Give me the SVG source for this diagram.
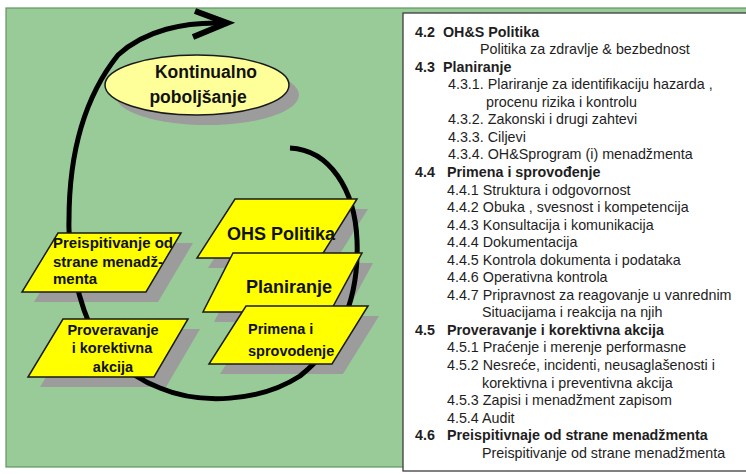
<svg xmlns="http://www.w3.org/2000/svg" width="746" height="474" viewBox="0 0 746 474">
<style>
.shape{fill:#ffff00;stroke:#1a1a1a;stroke-width:1.5;stroke-linejoin:miter}
.shadow{fill:#9c9c9c}
.lbl{font-family:"Liberation Sans",Arial,sans-serif;font-weight:bold;fill:#111}
.pt{font-family:"Liberation Sans",Arial,sans-serif;font-size:14.3px;fill:#1e1e1e}
.pb{font-weight:bold}
.loop{fill:none;stroke:#000;stroke-width:5;stroke-linecap:butt}
</style>
<rect x="0" y="0" width="746" height="474" fill="#ffffff"/>
<rect id="background" x="6" y="8" width="742" height="459" fill="#99cb99" stroke="#5f975f" stroke-width="1.2"/>
<rect id="panel" x="403" y="13" width="346" height="458" fill="#ffffff" stroke="#3c3c3c" stroke-width="1.3"/>
<g id="shadows">
<ellipse class="shadow" cx="207" cy="95" rx="92" ry="30"/>
<polygon class="shadow" points="246,209 368,209 331,268 208,268"/>
<polygon class="shadow" points="244,263 373,263 341,322 214,322"/>
<polygon class="shadow" points="257,316 379,316 343,374 220,374"/>
<polygon class="shadow" points="70,243 193,243 158,302 34,302"/>
<polygon class="shadow" points="75,329 200,329 166,387 40,387"/>
</g>
<g id="connectors">
<path class="loop" d="M 290 148 C 330 150 355 190 357 240 C 359 290 345 340 300 376 C 260 402 200 405 160 388 C 125 375 95 345 84 310 C 74 280 68 250 69 220 C 69 160 82 100 118 55 C 145 30 185 22 222 23"/>
<path fill="none" stroke="#000" stroke-width="6" stroke-linejoin="miter" d="M 195 11 L 227 23 L 193 37"/>
</g>
<g id="node-kontinualno">
<ellipse cx="197" cy="85" rx="92" ry="30" fill="#ffff99" stroke="#1a1a1a" stroke-width="1.5"/>
<text class="lbl" font-size="17.5" x="206" y="78" text-anchor="middle">Kontinualno</text>
<text class="lbl" font-size="17.5" x="198" y="103" text-anchor="middle">poboljšanje</text>
</g>
<g id="node-ohs-politika">
<polygon class="shape" points="235,199 357,199 320,258 197,258"/>
<text class="lbl" font-size="18" x="227" y="240">OHS Politika</text>
</g>
<g id="node-planiranje">
<polygon class="shape" points="233,253 362,253 330,312 203,312"/>
<text class="lbl" font-size="18" x="246" y="293">Planiranje</text>
</g>
<g id="node-primena">
<polygon class="shape" points="246,306 368,306 332,364 209,364"/>
<text class="lbl" font-size="14.5" x="248" y="334">Primena i</text>
<text class="lbl" font-size="14.5" x="248" y="356">sprovodenje</text>
</g>
<g id="node-preispitivanje">
<polygon class="shape" points="58,233 181,233 146,292 22,292"/>
<text class="lbl" font-size="15" x="53" y="248">Preispitivanje od</text>
<text class="lbl" font-size="15" x="53" y="267">strane menadž-</text>
<text class="lbl" font-size="15" x="53" y="284">menta</text>
</g>
<g id="node-proveravanje">
<polygon class="shape" points="63,319 188,319 154,377 28,377"/>
<text class="lbl" font-size="14.5" x="113" y="335" text-anchor="middle">Proveravanje</text>
<text class="lbl" font-size="14.5" x="112" y="353" text-anchor="middle">i korektivna</text>
<text class="lbl" font-size="14.5" x="113" y="372" text-anchor="middle">akcija</text>
</g>
<g id="panel-text" class="pt">
<text class="pb" x="415" y="36.5">4.2</text><text class="pb" x="443" y="36.5">OH&amp;S Politika</text>
<text x="480" y="54">Politika za zdravlje &amp; bezbednost</text>
<text class="pb" x="415" y="71.6">4.3</text><text class="pb" x="443" y="71.6">Planiranje</text>
<text x="448" y="89.2">4.3.1. Plariranje za identifikaciju hazarda ,</text>
<text x="486" y="106.7">procenu rizika i kontrolu</text>
<text x="448" y="124.3">4.3.2. Zakonski i drugi zahtevi</text>
<text x="448" y="141.8">4.3.3. Ciljevi</text>
<text x="448" y="159.4">4.3.4. OH&amp;Sprogram (i) menadžmenta</text>
<text class="pb" x="415" y="176.9">4.4</text><text class="pb" x="447" y="176.9">Primena i sprovođenje</text>
<text x="447" y="194.5">4.4.1 Struktura i odgovornost</text>
<text x="447" y="212">4.4.2 Obuka , svesnost i kompetencija</text>
<text x="447" y="229.6">4.4.3 Konsultacija i komunikacija</text>
<text x="447" y="247.1">4.4.4 Dokumentacija</text>
<text x="447" y="264.7">4.4.5 Kontrola dokumenta i podataka</text>
<text x="447" y="282.2">4.4.6 Operativna kontrola</text>
<text x="447" y="299.8">4.4.7 Pripravnost za reagovanje u vanrednim</text>
<text x="482" y="317.3">Situacijama i reakcija na njih</text>
<text class="pb" x="415" y="334.9">4.5</text><text class="pb" x="447" y="334.9">Proveravanje i korektivna akcija</text>
<text x="447" y="352.4">4.5.1 Praćenje i merenje performasne</text>
<text x="447" y="370">4.5.2 Nesreće, incidenti, neusaglašenosti i</text>
<text x="482" y="387.5">korektivna i preventivna akcija</text>
<text x="447" y="405.1">4.5.3 Zapisi i menadžment zapisom</text>
<text x="447" y="422.6">4.5.4 Audit</text>
<text class="pb" x="415" y="440.2">4.6</text><text class="pb" x="447" y="440.2">Preispitivnaje od strane menadžmenta</text>
<text x="482" y="457.7">Preispitivanje od strane menadžmenta</text>
</g>
</svg>
